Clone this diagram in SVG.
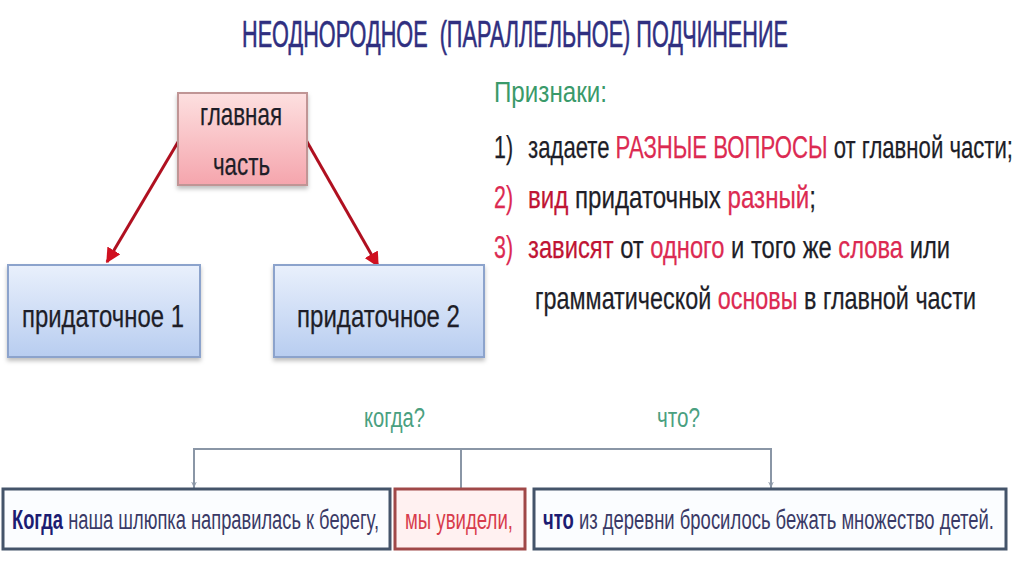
<svg xmlns="http://www.w3.org/2000/svg" width="1024" height="574" viewBox="0 0 1024 574">
<defs>
<style>
text{font-family:"Liberation Sans",Arial,sans-serif}
.t{fill:#1e1e28;font-size:32px;stroke:#1e1e28;stroke-width:0.25}
.r{fill:#dc2a52;stroke:#dc2a52}
.dr{fill:#c01434;stroke:#c01434}
.g{fill:#3a9a6a}
.b{font-size:27px;fill:#3a3a66}
.bb{font-weight:bold;fill:#1c1c72}
.grey{stroke:#8a96a6;stroke-width:2;fill:none}
</style>
<linearGradient id="pink" x1="0" y1="0" x2="0" y2="1">
<stop offset="0" stop-color="#fde0e0"/><stop offset="1" stop-color="#f5a5ad"/>
</linearGradient>
<linearGradient id="blue" x1="0" y1="0" x2="0" y2="1">
<stop offset="0" stop-color="#e9f0fc"/><stop offset="1" stop-color="#b8cdf0"/>
</linearGradient>
<filter id="sh" x="-10%" y="-10%" width="120%" height="130%">
<feDropShadow dx="0" dy="3" stdDeviation="2" flood-color="#000" flood-opacity="0.25"/>
</filter>
<marker id="ra" viewBox="0 0 10 10" refX="9" refY="5" markerWidth="5" markerHeight="5" orient="auto">
<path d="M0,0 L10,5 L0,10 z" fill="#d01020"/>
</marker>
<marker id="ga" viewBox="0 0 10 10" refX="9" refY="5" markerWidth="6" markerHeight="6" orient="auto" markerUnits="userSpaceOnUse">
<path d="M0,1 L9,5 L0,9" fill="none" stroke="#8a96a6" stroke-width="1.5"/>
</marker>
</defs>
<rect width="1024" height="574" fill="#ffffff"/>

<text x="242" y="47" font-size="36" fill="#2f2f80" stroke="#2f2f80" stroke-width="0.6" textLength="546" lengthAdjust="spacingAndGlyphs" xml:space="preserve">НЕОДНОРОДНОЕ  (ПАРАЛЛЕЛЬНОЕ) ПОДЧИНЕНИЕ</text>

<g id="connectors">
<line x1="181" y1="137" x2="107" y2="262" stroke="#b01020" stroke-width="3" marker-end="url(#ra)"/>
<line x1="306" y1="140" x2="378" y2="266" stroke="#b01020" stroke-width="3" marker-end="url(#ra)"/>
<path class="grey" d="M194,488 V449 H771 V488"/>
<line class="grey" x1="461" y1="449" x2="461" y2="488"/>
<line class="grey" x1="194" y1="470" x2="194" y2="487" marker-end="url(#ga)"/>
<line class="grey" x1="771" y1="470" x2="771" y2="487" marker-end="url(#ga)"/>
</g>

<g id="main">
<rect x="178" y="93" width="129" height="92" fill="url(#pink)" stroke="#c09595" stroke-width="2" filter="url(#sh)"/>
<text class="t" x="200" y="125" font-size="34" textLength="82" lengthAdjust="spacingAndGlyphs">главная</text>
<text class="t" x="213" y="175" font-size="34" textLength="57" lengthAdjust="spacingAndGlyphs">часть</text>
</g>

<g id="sub1">
<rect x="8" y="265" width="192" height="92" fill="url(#blue)" stroke="#8ca3cc" stroke-width="2" filter="url(#sh)"/>
<text class="t" x="22" y="327" textLength="162" lengthAdjust="spacingAndGlyphs">придаточное 1</text>
</g>
<g id="sub2">
<rect x="274" y="265" width="210" height="92" fill="url(#blue)" stroke="#8ca3cc" stroke-width="2" filter="url(#sh)"/>
<text class="t" x="297" y="327" textLength="163" lengthAdjust="spacingAndGlyphs">придаточное 2</text>
</g>

<g id="signs">
<text class="g" x="494" y="102" font-size="30" textLength="113" lengthAdjust="spacingAndGlyphs">Признаки:</text>
<text class="t" x="494" y="158" textLength="19" lengthAdjust="spacingAndGlyphs">1)</text>
<text class="t" x="528" y="158" textLength="485" lengthAdjust="spacingAndGlyphs">задаете <tspan class="r">РАЗНЫЕ ВОПРОСЫ</tspan> от главной части;</text>

<text class="t r" x="494" y="208" textLength="19" lengthAdjust="spacingAndGlyphs">2)</text>
<text class="t" x="528" y="208" textLength="288" lengthAdjust="spacingAndGlyphs"><tspan class="dr">вид</tspan> придаточных <tspan class="r">разный</tspan>;</text>

<text class="t r" x="494" y="258" textLength="19" lengthAdjust="spacingAndGlyphs">3)</text>
<text class="t" x="528" y="258" textLength="422" lengthAdjust="spacingAndGlyphs"><tspan class="dr">зависят</tspan> от <tspan class="r">одного</tspan> и того же <tspan class="r">слова</tspan> или</text>

<text class="t" x="535" y="309" textLength="441" lengthAdjust="spacingAndGlyphs">грамматической <tspan class="r">основы</tspan> в главной части</text>
</g>

<g id="questions">
<text x="364" y="427" font-size="27" fill="#4aa080" textLength="61" lengthAdjust="spacingAndGlyphs">когда?</text>
<text x="657" y="427" font-size="27" fill="#4aa080" textLength="43" lengthAdjust="spacingAndGlyphs">что?</text>
</g>

<g id="clause1">
<rect x="3" y="489" width="387" height="60" fill="#fbfdff" stroke="#44546a" stroke-width="3"/>
<text class="b" x="12" y="529" textLength="367" lengthAdjust="spacingAndGlyphs"><tspan class="bb">Когда</tspan> наша шлюпка направилась к берегу,</text>
</g>
<g id="clause2">
<rect x="395" y="489" width="130" height="60" fill="#fff1f1" stroke="#a04848" stroke-width="3"/>
<text class="b" x="405" y="529" style="fill:#d83c4c" textLength="108" lengthAdjust="spacingAndGlyphs">мы увидели,</text>
</g>
<g id="clause3">
<rect x="534" y="489" width="472" height="60" fill="#fbfdff" stroke="#44546a" stroke-width="3"/>
<text class="b" x="543" y="529" textLength="451" lengthAdjust="spacingAndGlyphs"><tspan class="bb">что</tspan> из деревни бросилось бежать множество детей.</text>
</g>
</svg>
